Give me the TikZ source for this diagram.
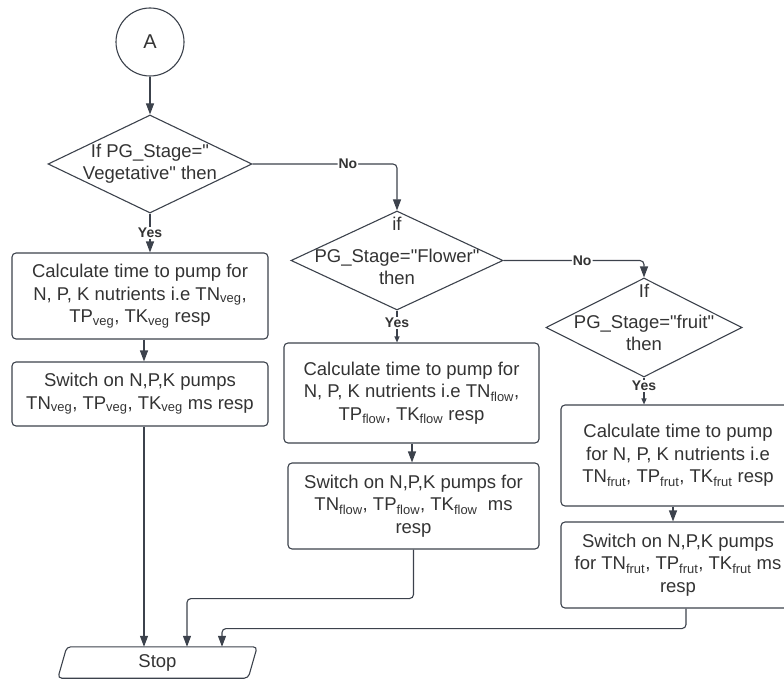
\documentclass[tikz,border=0pt]{standalone}
\usepackage{fontspec}
\setmainfont{Liberation Sans}
\usetikzlibrary{arrows.meta,shapes.geometric,calc}
\definecolor{ln}{HTML}{3C424C}
\definecolor{tx}{HTML}{333333}
\newcommand{\sbx}[1]{\textsubscript{#1}}
\newcommand{\dq}{\textquotedbl}
\begin{document}
\begin{tikzpicture}[x=1pt,y=-1pt,
  every node/.style={text=tx, font=\fontsize{18.5}{22.5}\selectfont},
  proc/.style={draw=ln, line width=1.1pt, rounded corners=4pt, align=center, inner sep=0pt},
  dia/.style={draw=ln, line width=1.1pt, diamond, inner sep=0pt},
  dtext/.style={align=center, inner sep=0pt, font=\fontsize{18.5}{22}\selectfont},
  lbl/.style={fill=white, font=\bfseries\fontsize{14}{16}\selectfont, inner sep=1pt},
  conn/.style={draw=ln, line width=1.1pt, -{Triangle[width=8pt,length=11pt]}},
  sconn/.style={draw=ln, line width=1.1pt, -{Triangle[width=5pt,length=6pt]}},
  wire/.style={draw=ln, line width=1.1pt},
]
\useasboundingbox (0,0) rectangle (784,679);
\clip (0,0) rectangle (784,679);

% start
\node[draw=ln, line width=1.1pt, circle, minimum size=68pt, inner sep=0pt,
      font=\fontsize{20}{24}\selectfont] (A) at (150,42) {A};

% decisions
\node[dia, minimum width=204pt, minimum height=98pt] (d1) at (150,164) {};
\node[dtext] (t1) at (150,164) {If PG\_Stage=\dq\\Vegetative\dq{} then};

\node[dia, minimum width=212pt, minimum height=99pt] (d2) at (397,260.5) {};
\node[dtext] (t2) at (397,251) {if\\[10pt]PG\_Stage=\dq Flower\dq\\then};

\node[dia, minimum width=196pt, minimum height=99pt] (d3) at (644,327.5) {};
\node[dtext] (t3) at (644,317) {If\\[9pt]PG\_Stage=\dq fruit\dq\\then};

% process boxes
\node[proc, minimum width=256pt, minimum height=86pt] (b1) at (140,296)
  {Calculate time to pump for\\N, P, K nutrients i.e TN\sbx{veg},\\TP\sbx{veg}, TK\sbx{veg} resp};
\node[proc, minimum width=256pt, minimum height=64pt] (b2) at (140,394)
  {Switch on N,P,K pumps\\TN\sbx{veg}, TP\sbx{veg}, TK\sbx{veg} ms resp};

\node[proc, minimum width=255pt, minimum height=100pt] (b3) at (411.5,393)
  {Calculate time to pump for\\N, P, K nutrients i.e TN\sbx{flow},\\TP\sbx{flow}, TK\sbx{flow} resp};
\node[proc, minimum width=251pt, minimum height=86pt] (b4) at (413.5,506)
  {Switch on N,P,K pumps for\\TN\sbx{flow}, TP\sbx{flow}, TK\sbx{flow}\ \ ms\\resp};

\node[proc, minimum width=234pt, minimum height=101pt] (b5) at (678,455.5)
  {Calculate time to pump\\for N, P, K nutrients i.e\\TN\sbx{frut}, TP\sbx{frut}, TK\sbx{frut} resp};
\node[proc, minimum width=234pt, minimum height=86pt] (b6) at (678,565)
  {Switch on N,P,K pumps\\for TN\sbx{frut}, TP\sbx{frut}, TK\sbx{frut} ms\\resp};

% stop
\node[minimum width=199pt, minimum height=31pt, inner sep=0pt] (stop) at (157.5,662.5) {Stop};
\draw[wire, rounded corners=4pt]
  ([xshift=9pt]stop.north west) -- (stop.north east) -- ([xshift=-9pt]stop.south east)
  -- (stop.south west) -- cycle;

% connectors
\draw[conn] (A.south) -- (d1.north);
\draw[conn] (d1.south) -- node[lbl] (y1) {Yes} (d1.south |- b1.north);
\draw[conn] ([xshift=4pt]b1.south) -- ([xshift=4pt]b1.south |- b2.north);
\draw[conn, rounded corners=4pt] (d1.east) -| node[lbl, pos=0.33] (n1) {No} (d2.north);

\draw[sconn] (d2.south) -- node[lbl, pos=0.38] (y2) {Yes} (d2.south |- b3.north);
\draw[conn] ([xshift=0.5pt]b3.south) -- ([xshift=0.5pt]b3.south |- b4.north);
\draw[conn, rounded corners=4pt] (d2.east) -| node[lbl, pos=0.28] (n2) {No} (d3.north);

\draw[sconn] (d3.south) -- node[lbl, pos=0.3] (y3) {Yes} (d3.south |- b5.north);
\draw[conn] ([xshift=-5pt]b5.south) -- ([xshift=-5pt]b5.south |- b6.north);

\draw[conn] ([xshift=4pt]b2.south) -- ([xshift=4pt]b2.south |- stop.north);
\draw[conn, rounded corners=4pt] (b4.south) -- ++(0,49) -| ([xshift=29.5pt]stop.north);
\draw[conn, rounded corners=4pt] ([xshift=8pt]b6.south) -- ++(0,20) -| ([xshift=64.5pt]stop.north);
\end{tikzpicture}
\end{document}
